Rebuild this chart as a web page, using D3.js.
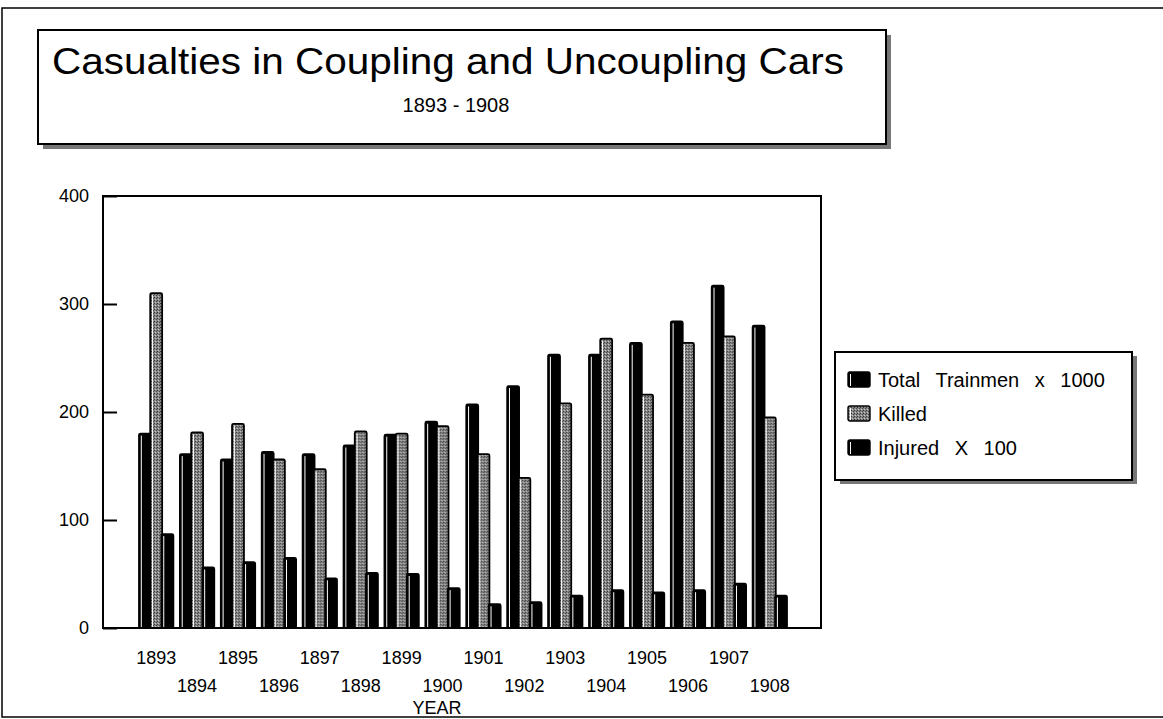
<!DOCTYPE html>
<html>
<head>
<meta charset="utf-8">
<script src="https://cdn.jsdelivr.net/npm/d3@7"></script>
<style>
  html, body { margin: 0; padding: 0; background: #fff; }
  svg { display: block; font-family: "Liberation Sans", Arial, sans-serif; }
</style>
</head>
<body>
<svg id="chart" width="1163" height="719"></svg>
<script>
const years = ["1893","1894","1895","1896","1897","1898","1899","1900","1901","1902","1903","1904","1905","1906","1907","1908"];
const totalTrainmen = [180,161,156,163,161,169,179,191,207,224,253,253,264,284,317,280];
const killed = [310,181,189,156,147,182,180,187,161,139,208,268,216,264,270,195];
const injured = [87,56,61,65,46,51,50,37,22,24,30,35,33,35,41,30];
const seriesNames = ["Total Trainmen x 1000", "Killed", "Injured X 100"];
const yTicks = [0,100,200,300,400];
const titleText = "Casualties in Coupling and Uncoupling Cars";
const subtitleText = "1893 - 1908";
const xTitle = "YEAR";

const svg = d3.select("#chart");

// pattern for gray dithered fill
const defs = svg.append("defs");
const pat = defs.append("pattern").attr("id","dither").attr("width",3).attr("height",3)
  .attr("patternUnits","userSpaceOnUse");
pat.append("rect").attr("width",3).attr("height",3).attr("fill","#858585");
pat.append("rect").attr("x",0).attr("y",0).attr("width",1).attr("height",1).attr("fill","#3a3a3a");
pat.append("rect").attr("x",2).attr("y",1).attr("width",1).attr("height",1).attr("fill","#4a4a4a");
pat.append("rect").attr("x",1).attr("y",2).attr("width",1).attr("height",1).attr("fill","#c8c8c8");

// outer frame
svg.append("rect").attr("x",2).attr("y",8).attr("width",1200).attr("height",709)
  .attr("fill","none").attr("stroke","#000").attr("stroke-width",1.5);

// title box
const tb = {x:38, y:30, w:848, h:114};
svg.append("rect").attr("x",tb.x+5).attr("y",tb.y+5).attr("width",tb.w).attr("height",tb.h)
  .attr("fill","#777");
svg.append("rect").attr("x",tb.x).attr("y",tb.y).attr("width",tb.w).attr("height",tb.h)
  .attr("fill","#fff").attr("stroke","#000").attr("stroke-width",2);
svg.append("text").attr("x",52).attr("y",74).attr("font-size",37)
  .attr("textLength",792).attr("lengthAdjust","spacingAndGlyphs")
  .attr("fill","#000").text(titleText);
svg.append("text").attr("x",456).attr("y",112).attr("font-size",20).attr("text-anchor","middle")
  .attr("fill","#000").text(subtitleText);

// plot
const plot = {l:103, t:196, r:821, b:628};
const y = d3.scaleLinear().domain([0,400]).range([plot.b, plot.t]);
const x0 = d3.scaleBand().domain(years).range([139, 787]).paddingInner(0.16);
const x1 = d3.scaleBand().domain([0,1,2]).range([0, x0.bandwidth()]).paddingInner(-0.06);

// frame
svg.append("rect").attr("x",plot.l).attr("y",plot.t).attr("width",plot.r-plot.l).attr("height",plot.b-plot.t)
  .attr("fill","none").attr("stroke","#000").attr("stroke-width",2);

// y axis
const yAxis = d3.axisLeft(y).tickValues(yTicks).tickSizeInner(-14).tickSizeOuter(0).tickPadding(14);
const ga = svg.append("g").attr("transform",`translate(${plot.l},0)`).call(yAxis);
ga.select(".domain").remove();
ga.selectAll(".tick line").attr("stroke","#000").attr("stroke-width",2);
ga.selectAll(".tick text").attr("font-size",18).attr("font-family","Liberation Sans, Arial, sans-serif").attr("fill","#000");

// bars
const data = years.map((yr,i)=>({year:yr, vals:[totalTrainmen[i], killed[i], injured[i]]}));
const fills = ["#000", "url(#dither)", "#000"];
const groups = svg.append("g").selectAll("g").data(data).join("g")
  .attr("transform", d=>`translate(${x0(d.year)},0)`);
const bw = x1.bandwidth();
groups.each(function(d){
  const g = d3.select(this);
  d.vals.forEach((v,k)=>{
    const bx = x1(k), by = y(v), bh = plot.b - y(v);
    g.append("rect").attr("x",bx).attr("y",by).attr("width",bw).attr("height",bh)
      .attr("rx",1.5).attr("fill",fills[k]).attr("stroke","#000").attr("stroke-width",1.8);
    g.append("line").attr("x1",bx+2.3).attr("x2",bx+2.3).attr("y1",by+2).attr("y2",plot.b-1)
      .attr("stroke","#fff").attr("stroke-width",1);
  });
});

// x axis labels
const xAxis = d3.axisBottom(x0).tickSize(0).tickPadding(0);
const gx = svg.append("g").attr("transform",`translate(0,${plot.b})`).call(xAxis);
gx.select(".domain").remove();
gx.selectAll(".tick text").attr("font-size",18).attr("font-family","Liberation Sans, Arial, sans-serif")
  .attr("fill","#000")
  .attr("dy", null)
  .attr("y", (d,i)=> i%2===0 ? 36 : 64);
svg.append("text").attr("x",437).attr("y",714).attr("text-anchor","middle").attr("font-size",18)
  .attr("fill","#000").text(xTitle);

// legend
const lb = {x:835, y:352, w:297, h:128};
svg.append("rect").attr("x",lb.x+5).attr("y",lb.y+4).attr("width",lb.w).attr("height",lb.h).attr("fill","#777");
svg.append("rect").attr("x",lb.x).attr("y",lb.y).attr("width",lb.w).attr("height",lb.h)
  .attr("fill","#fff").attr("stroke","#000").attr("stroke-width",2);
const legY = d3.scalePoint().domain(seriesNames).range([379, 447]);
const lg = svg.append("g").selectAll("g").data(seriesNames).join("g")
  .attr("transform", d=>`translate(848,${legY(d)})`);
lg.append("rect").attr("x",0).attr("y",-7).attr("width",22).attr("height",15).attr("rx",2)
  .attr("fill",(d,i)=>fills[i]).attr("stroke","#000").attr("stroke-width",1.4);
lg.append("line").attr("x1",2.5).attr("x2",2.5).attr("y1",-5).attr("y2",7).attr("stroke","#fff").attr("stroke-width",1);
lg.append("text").attr("x",30).attr("y",8).attr("font-size",20).attr("fill","#000")
  .attr("word-spacing", (d,i)=> i===1 ? 0 : 10)
  .text(d=>d);
</script>
</body>
</html>
